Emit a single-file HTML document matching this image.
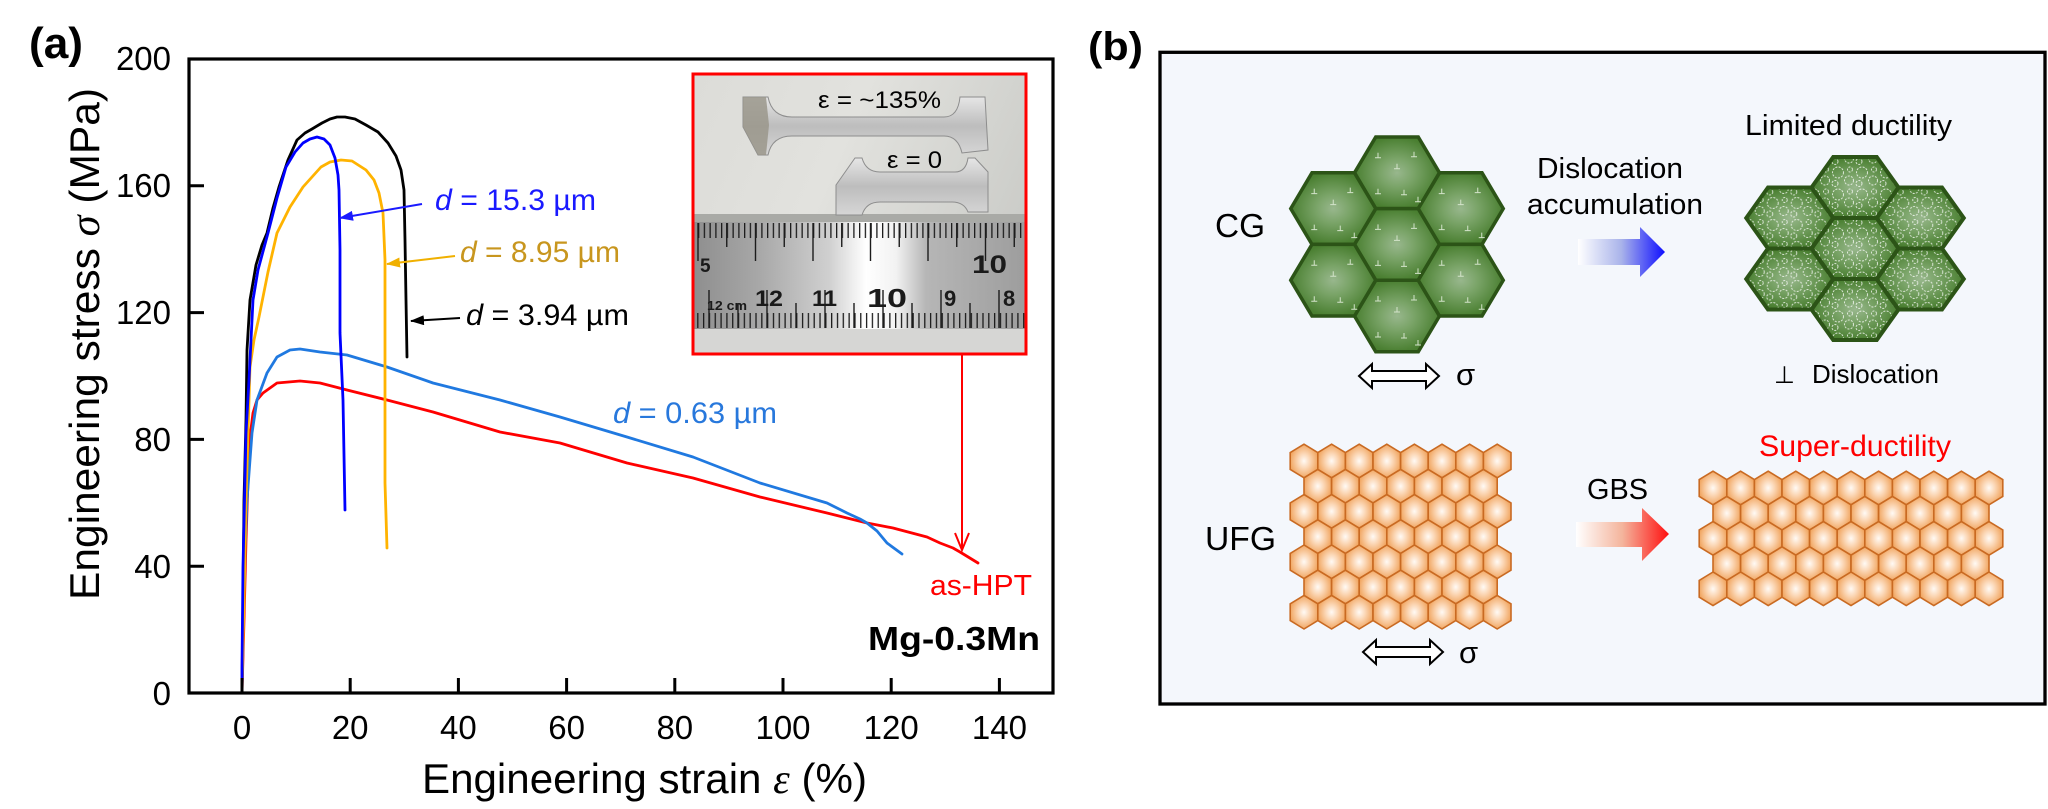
<!DOCTYPE html>
<html><head><meta charset="utf-8">
<style>
html,body{margin:0;padding:0;background:#fff;}
svg{display:block;}
text{font-family:"Liberation Sans",Arial,sans-serif;}
.ser{font-family:"Liberation Serif","Times New Roman",serif;font-style:italic;}
</style></head>
<body>
<svg width="2048" height="809" viewBox="0 0 2048 809" xmlns="http://www.w3.org/2000/svg" xmlns:xlink="http://www.w3.org/1999/xlink">
<defs>
  <marker id="mB" viewBox="0 0 14 10" refX="13" refY="5" markerWidth="14" markerHeight="10" markerUnits="userSpaceOnUse" orient="auto"><path d="M0,0L14,5L0,10z" fill="#1a1aff"/></marker>
  <marker id="mO" viewBox="0 0 14 10" refX="13" refY="5" markerWidth="14" markerHeight="10" markerUnits="userSpaceOnUse" orient="auto"><path d="M0,0L14,5L0,10z" fill="#f0b000"/></marker>
  <marker id="mK" viewBox="0 0 14 10" refX="13" refY="5" markerWidth="14" markerHeight="10" markerUnits="userSpaceOnUse" orient="auto"><path d="M0,0L14,5L0,10z" fill="#000"/></marker>

  <radialGradient id="gG" cx="0.5" cy="0.5" r="0.5">
    <stop offset="0" stop-color="#98b78d"/>
    <stop offset="0.4" stop-color="#7aa468"/>
    <stop offset="1" stop-color="#4a7f31"/>
  </radialGradient>
  <radialGradient id="gO" cx="0.5" cy="0.5" r="0.5">
    <stop offset="0" stop-color="#fffaf5"/>
    <stop offset="0.45" stop-color="#fbd6b4"/>
    <stop offset="1" stop-color="#f1a763"/>
  </radialGradient>
  <linearGradient id="aB" gradientUnits="userSpaceOnUse" x1="1578" y1="0" x2="1665" y2="0">
    <stop offset="0" stop-color="#ffffff"/>
    <stop offset="0.5" stop-color="#a9b3ea"/>
    <stop offset="1" stop-color="#0f0fff"/>
  </linearGradient>
  <linearGradient id="aR" gradientUnits="userSpaceOnUse" x1="1576" y1="0" x2="1669" y2="0">
    <stop offset="0" stop-color="#ffffff"/>
    <stop offset="0.5" stop-color="#f4b49c"/>
    <stop offset="1" stop-color="#ff1010"/>
  </linearGradient>
  <linearGradient id="rulerG" gradientUnits="userSpaceOnUse" x1="693" y1="0" x2="1026" y2="0">
    <stop offset="0" stop-color="#8e8e8e"/>
    <stop offset="0.2" stop-color="#a8a8a8"/>
    <stop offset="0.41" stop-color="#d0d0d0"/>
    <stop offset="0.52" stop-color="#ffffff"/>
    <stop offset="0.61" stop-color="#f2f2f2"/>
    <stop offset="0.7" stop-color="#b6b6b6"/>
    <stop offset="1" stop-color="#9d9d9d"/>
  </linearGradient>
  <linearGradient id="photoG" gradientUnits="userSpaceOnUse" x1="693" y1="74" x2="1026" y2="220">
    <stop offset="0" stop-color="#dcdcd8"/>
    <stop offset="0.45" stop-color="#e2e2de"/>
    <stop offset="1" stop-color="#cbccc8"/>
  </linearGradient>
  <linearGradient id="specG" x1="0" y1="0" x2="0" y2="1">
    <stop offset="0" stop-color="#e6e6e6"/>
    <stop offset="0.5" stop-color="#bdbdbd"/>
    <stop offset="1" stop-color="#d6d6d6"/>
  </linearGradient>
  <pattern id="tT" x="698" y="223" width="5.75" height="15" patternUnits="userSpaceOnUse"><rect x="0" y="0" width="1.3" height="15" fill="#1c1c1c"/></pattern>
  <pattern id="tB" x="767" y="313" width="5.82" height="15" patternUnits="userSpaceOnUse"><rect x="0" y="0" width="1.3" height="15" fill="#1c1c1c"/></pattern>
  <pattern id="sq" width="24" height="22" patternUnits="userSpaceOnUse">
    <g fill="none" stroke="#ffffff" stroke-opacity="0.75" stroke-width="1" stroke-dasharray="2 1.3">
      <circle cx="7" cy="7" r="5.5"/><circle cx="18" cy="15" r="4.5"/><circle cx="4" cy="18" r="3"/><circle cx="19" cy="4" r="2.5"/>
    </g>
  </pattern>
  <clipPath id="inset"><rect x="693" y="74" width="333" height="280"/></clipPath>

  <polygon id="hexCG" points="-42.5,0 -21.25,-35.8 21.25,-35.8 42.5,0 21.25,35.8 -21.25,35.8"/>
  <polygon id="hexD" points="-43.5,0 -21.75,-30.5 21.75,-30.5 43.5,0 21.75,30.5 -21.75,30.5"/>
  <polygon id="ho" points="0,-16.8 13.8,-8.4 13.8,8.4 0,16.8 -13.8,8.4 -13.8,-8.4" fill="url(#gO)" stroke="#c96a22" stroke-width="1.6"/>
  <g id="dis" stroke="#d3e3ca" stroke-width="1" fill="none">
    <path d="M-22,-15h6M-19,-15v-5M14,-16h6M17,-16v-5M-3,-4h6M0,-4v-5M-22,21h6M-19,21v-5M4,22h6M7,22v-5M18,29h6M21,29v-5"/>
  </g>
  <g id="r7"><use xlink:href="#ho" x="0"/><use xlink:href="#ho" x="27.6"/><use xlink:href="#ho" x="55.2"/><use xlink:href="#ho" x="82.8"/><use xlink:href="#ho" x="110.4"/><use xlink:href="#ho" x="138"/><use xlink:href="#ho" x="165.6"/></g>
  <g id="r8"><use xlink:href="#r7"/><use xlink:href="#ho" x="193.2"/></g>
  <g id="r10"><use xlink:href="#r8"/><use xlink:href="#ho" x="220.8"/><use xlink:href="#ho" x="248.4"/></g>
  <g id="r11"><use xlink:href="#r10"/><use xlink:href="#ho" x="276"/></g>
</defs>

<!-- ================= PANEL (a) ================= -->
<text x="29" y="58" font-size="44" font-weight="bold" textLength="54" lengthAdjust="spacingAndGlyphs">(a)</text>

<!-- inset photo -->
<g clip-path="url(#inset)">
  <rect x="693" y="74" width="333" height="148" fill="url(#photoG)"/>
  <rect x="693" y="214" width="333" height="9" fill="#a9aaa6"/>
  <rect x="693" y="222" width="333" height="107" fill="url(#rulerG)"/>
  <rect x="693" y="329" width="333" height="26" fill="#d6d6d4"/>
  <!-- upper specimen -->
  <path d="M743,97 L768,97 Q772,117 792,117 L944,117 Q958,117 960,97 L985,97 L988,150 L962,153 Q958,136 944,136 L792,136 Q772,136 768,155 L758,155 L743,127 Z" fill="url(#specG)" stroke="#8d8d8d" stroke-width="1"/>
  <polygon points="743,97 766,97 769,125 766,155 758,155 743,127" fill="#9a968b" opacity="0.85"/>
  <!-- lower specimen -->
  <path d="M836,185 L855,158 L862,158 Q866,172 880,172 L955,172 Q966,172 968,158 L975,158 L988,172 L988,212 L968,212 Q964,202 952,202 L880,202 Q866,202 862,215 L836,215 Z" fill="url(#specG)" stroke="#8d8d8d" stroke-width="1"/>
  <text x="818" y="108" font-size="24" textLength="123" lengthAdjust="spacingAndGlyphs">ε = ~135%</text>
  <text x="887" y="168" font-size="24" textLength="55" lengthAdjust="spacingAndGlyphs">ε = 0</text>
  <!-- ruler ticks -->
  <rect x="693" y="223" width="333" height="15" fill="url(#tT)"/>
  <g stroke="#1c1c1c" stroke-width="1.4">
    <path d="M726.75,223V247M784.25,223V247M841.75,223V247M899.25,223V247M956.75,223V247M1014.25,223V247"/>
    <path d="M698,223V261M755.5,223V261M813,223V261M870.5,223V261M928,223V261M985.5,223V261"/>
  </g>
  <rect x="693" y="313" width="333" height="15" fill="url(#tB)"/>
  <g stroke="#1c1c1c" stroke-width="1.4">
    <path d="M738,303V328M796,303V328M854,303V328M912,303V328M970,303V328"/>
    <path d="M709,290V328M767,290V328M825,290V328M883,290V328M941,290V328M999,290V328"/>
  </g>
  <g font-weight="bold" fill="#1a1a1a">
    <text x="700" y="272" font-size="19">5</text>
    <text x="972" y="273" font-size="25" textLength="35" lengthAdjust="spacingAndGlyphs">10</text>
    <text x="707" y="310" font-size="13" textLength="40" lengthAdjust="spacingAndGlyphs">12 cm</text>
    <text x="755" y="306" font-size="22" textLength="28" lengthAdjust="spacingAndGlyphs">12</text>
    <text x="812" y="306" font-size="22" textLength="25" lengthAdjust="spacingAndGlyphs">11</text>
    <text x="867" y="307" font-size="26" textLength="40" lengthAdjust="spacingAndGlyphs">10</text>
    <text x="944" y="306" font-size="22">9</text>
    <text x="1003" y="306" font-size="22">8</text>
  </g>
</g>
<rect x="693" y="74" width="333" height="280" fill="none" stroke="#ff0000" stroke-width="3"/>
<!-- red arrow from inset -->
<line x1="962" y1="355" x2="962" y2="549" stroke="#ff0000" stroke-width="2"/>
<path d="M955,533 L962,550 L969,533" fill="none" stroke="#ff0000" stroke-width="2"/>

<!-- curves -->
<g fill="none" stroke-width="2.8" stroke-linejoin="round" stroke-linecap="round">
  <polyline stroke="#ff0000" points="242,693 244,620 246,540 248,480 250,437 253,413 257,400 263,393 277,383 300,381 320,383 347,390 387,400 433,412 500,432 560,443 627,463 693,478 760,497 827,513 867,523 893,528 927,537 940,543 953,548 960,552 978,563"/>
  <polyline stroke="#2079e0" points="242,693 243,640 245,550 247,500 252,433 257,400 267,373 277,357 290,350 300,349 320,352 347,355 387,367 433,383 500,400 560,417 627,437 693,457 760,483 827,503 847,513 860,519 867,523 877,531 887,543 902,554"/>
  <polyline stroke="#000000" points="242,693 243,600 244,500 246,420 247,350 250,300 256,265 262,245 267,233 273,208 279,187 288,160 297,140 305,133 312,129 322,123 330,119 337,117 345,117 355,119 366,125 378,132 388,143 396,156 401,170 404,190 405,240 406,300 407,357"/>
  <polyline stroke="#ffb300" points="242,693 242,683 244,600 246,500 248,433 250,367 254,340 259,317 268,272 277,233 290,207 303,187 321,167 330,162 341,160 352,161 366,170 374,180 379,193 383,213 385,260 385,483 387,548"/>
  <polyline stroke="#0000ff" points="242,693 242,667 243,567 246,433 249,380 253,300 258,270 268,233 277,198 286,167 295,152 303,143 310,139 317,137 324,139 330,145 335,158 338,175 339,190 340,250 340,333 343,400 345,510"/>
</g>

<!-- frame & ticks -->
<rect x="189" y="59" width="864" height="634" fill="none" stroke="#000" stroke-width="3.2"/>
<g stroke="#000" stroke-width="3">
  <path d="M189,566.2H204M189,439.4H204M189,312.6H204M189,185.8H204"/>
  <path d="M242,693V678M350.2,693V678M458.4,693V678M566.6,693V678M674.8,693V678M783,693V678M891.2,693V678M999.4,693V678"/>
</g>
<g font-size="33" text-anchor="end">
  <text x="171" y="70">200</text>
  <text x="171" y="197">160</text>
  <text x="171" y="324">120</text>
  <text x="171" y="451">80</text>
  <text x="171" y="578">40</text>
  <text x="171" y="705">0</text>
</g>
<g font-size="33" text-anchor="middle">
  <text x="242" y="739">0</text>
  <text x="350.2" y="739">20</text>
  <text x="458.4" y="739">40</text>
  <text x="566.6" y="739">60</text>
  <text x="674.8" y="739">80</text>
  <text x="783" y="739">100</text>
  <text x="891.2" y="739">120</text>
  <text x="999.4" y="739">140</text>
</g>
<text x="422" y="793" font-size="42" textLength="445" lengthAdjust="spacingAndGlyphs">Engineering strain <tspan class="ser">ε</tspan> (%)</text>
<text transform="translate(99,344) rotate(-90)" text-anchor="middle" font-size="42" textLength="512" lengthAdjust="spacingAndGlyphs">Engineering stress <tspan class="ser">σ</tspan> (MPa)</text>

<!-- annotations -->
<line x1="422" y1="204" x2="340" y2="218" stroke="#1a1aff" stroke-width="2" marker-end="url(#mB)"/>
<line x1="455" y1="256" x2="387" y2="264" stroke="#f0b000" stroke-width="2" marker-end="url(#mO)"/>
<line x1="460" y1="318" x2="411" y2="321" stroke="#000" stroke-width="2" marker-end="url(#mK)"/>
<text x="435" y="210" font-size="30" fill="#1a1aff" textLength="161" lengthAdjust="spacingAndGlyphs"><tspan font-style="italic">d</tspan> = 15.3 µm</text>
<text x="460" y="262" font-size="30" fill="#c8961e" textLength="160" lengthAdjust="spacingAndGlyphs"><tspan font-style="italic">d</tspan> = 8.95 µm</text>
<text x="466" y="325" font-size="30" fill="#000" textLength="163" lengthAdjust="spacingAndGlyphs"><tspan font-style="italic">d</tspan> = 3.94 µm</text>
<text x="613" y="423" font-size="30" fill="#2878dc" textLength="164" lengthAdjust="spacingAndGlyphs"><tspan font-style="italic">d</tspan> = 0.63 µm</text>
<text x="930" y="595" font-size="29" fill="#ff0000" textLength="102" lengthAdjust="spacingAndGlyphs">as-HPT</text>
<text x="868" y="650" font-size="33" font-weight="bold" textLength="172" lengthAdjust="spacingAndGlyphs">Mg-0.3Mn</text>

<!-- ================= PANEL (b) ================= -->
<text x="1088" y="60" font-size="40" font-weight="bold" textLength="55" lengthAdjust="spacingAndGlyphs">(b)</text>
<rect x="1160" y="52.3" width="885" height="651.7" fill="#f4f7fc" stroke="#000" stroke-width="3.3"/>

<!-- CG cluster -->
<g fill="url(#gG)" stroke="#2c5417" stroke-width="3.5">
  <use xlink:href="#hexCG" x="1397" y="172.8"/>
  <use xlink:href="#hexCG" x="1397" y="244.4"/>
  <use xlink:href="#hexCG" x="1397" y="316"/>
  <use xlink:href="#hexCG" x="1333.25" y="208.6"/>
  <use xlink:href="#hexCG" x="1333.25" y="280.2"/>
  <use xlink:href="#hexCG" x="1460.75" y="208.6"/>
  <use xlink:href="#hexCG" x="1460.75" y="280.2"/>
</g>
<use xlink:href="#dis" x="1397" y="172.8"/>
<use xlink:href="#dis" x="1397" y="244.4"/>
<use xlink:href="#dis" x="1397" y="316"/>
<use xlink:href="#dis" x="1333.25" y="208.6"/>
<use xlink:href="#dis" x="1333.25" y="280.2"/>
<use xlink:href="#dis" x="1460.75" y="208.6"/>
<use xlink:href="#dis" x="1460.75" y="280.2"/>
<text x="1215" y="237" font-size="33" textLength="50" lengthAdjust="spacingAndGlyphs">CG</text>
<path d="M1359,376 L1372,364 V371 H1426 V364 L1439,376 L1426,388 V381 H1372 V388 Z" fill="#fff" stroke="#000" stroke-width="2"/>
<text x="1456" y="385" font-size="31">σ</text>

<!-- arrow + text -->
<text x="1537" y="178" font-size="29" textLength="146" lengthAdjust="spacingAndGlyphs">Dislocation</text>
<text x="1527" y="214" font-size="29" textLength="176" lengthAdjust="spacingAndGlyphs">accumulation</text>
<path d="M1578,239 H1640 V227 L1665,252 L1640,277 V265 H1578 Z" fill="url(#aB)"/>

<!-- deformed cluster -->
<g fill="url(#gG)">
  <use xlink:href="#hexD" x="1855" y="187.5"/>
  <use xlink:href="#hexD" x="1855" y="248.5"/>
  <use xlink:href="#hexD" x="1855" y="309.5"/>
  <use xlink:href="#hexD" x="1789.75" y="218"/>
  <use xlink:href="#hexD" x="1789.75" y="279"/>
  <use xlink:href="#hexD" x="1920.25" y="218"/>
  <use xlink:href="#hexD" x="1920.25" y="279"/>
</g>
<g fill="url(#sq)">
  <use xlink:href="#hexD" x="1855" y="187.5"/>
  <use xlink:href="#hexD" x="1855" y="248.5"/>
  <use xlink:href="#hexD" x="1855" y="309.5"/>
  <use xlink:href="#hexD" x="1789.75" y="218"/>
  <use xlink:href="#hexD" x="1789.75" y="279"/>
  <use xlink:href="#hexD" x="1920.25" y="218"/>
  <use xlink:href="#hexD" x="1920.25" y="279"/>
</g>
<g fill="none" stroke="#2c5417" stroke-width="4">
  <use xlink:href="#hexD" x="1855" y="187.5"/>
  <use xlink:href="#hexD" x="1855" y="248.5"/>
  <use xlink:href="#hexD" x="1855" y="309.5"/>
  <use xlink:href="#hexD" x="1789.75" y="218"/>
  <use xlink:href="#hexD" x="1789.75" y="279"/>
  <use xlink:href="#hexD" x="1920.25" y="218"/>
  <use xlink:href="#hexD" x="1920.25" y="279"/>
</g>
<text x="1745" y="135" font-size="29" textLength="207" lengthAdjust="spacingAndGlyphs">Limited ductility</text>
<text x="1774" y="383" font-size="24">⊥</text>
<text x="1812" y="383" font-size="26" textLength="127" lengthAdjust="spacingAndGlyphs">Dislocation</text>

<!-- UFG -->
<text x="1205" y="550" font-size="33" textLength="71" lengthAdjust="spacingAndGlyphs">UFG</text>
<use xlink:href="#r8" x="1304" y="461"/>
<use xlink:href="#r7" x="1317.8" y="486.2"/>
<use xlink:href="#r8" x="1304" y="511.4"/>
<use xlink:href="#r7" x="1317.8" y="536.6"/>
<use xlink:href="#r8" x="1304" y="561.8"/>
<use xlink:href="#r7" x="1317.8" y="587"/>
<use xlink:href="#r8" x="1304" y="612.2"/>
<path d="M1363,652 L1376,640 V647 H1430 V640 L1443,652 L1430,664 V657 H1376 V664 Z" fill="#fff" stroke="#000" stroke-width="2"/>
<text x="1459" y="663" font-size="31">σ</text>

<!-- GBS arrow -->
<text x="1587" y="499" font-size="29" textLength="61" lengthAdjust="spacingAndGlyphs">GBS</text>
<path d="M1576,522 H1642 V508 L1669,534 L1642,561 V547 H1576 Z" fill="url(#aR)"/>

<!-- Super-ductility -->
<text x="1759" y="456" font-size="30" fill="#ff0000" textLength="192" lengthAdjust="spacingAndGlyphs">Super-ductility</text>
<use xlink:href="#r11" x="1713" y="488"/>
<use xlink:href="#r10" x="1726.8" y="513.2"/>
<use xlink:href="#r11" x="1713" y="538.4"/>
<use xlink:href="#r10" x="1726.8" y="563.6"/>
<use xlink:href="#r11" x="1713" y="588.8"/>
</svg>
</body></html>
